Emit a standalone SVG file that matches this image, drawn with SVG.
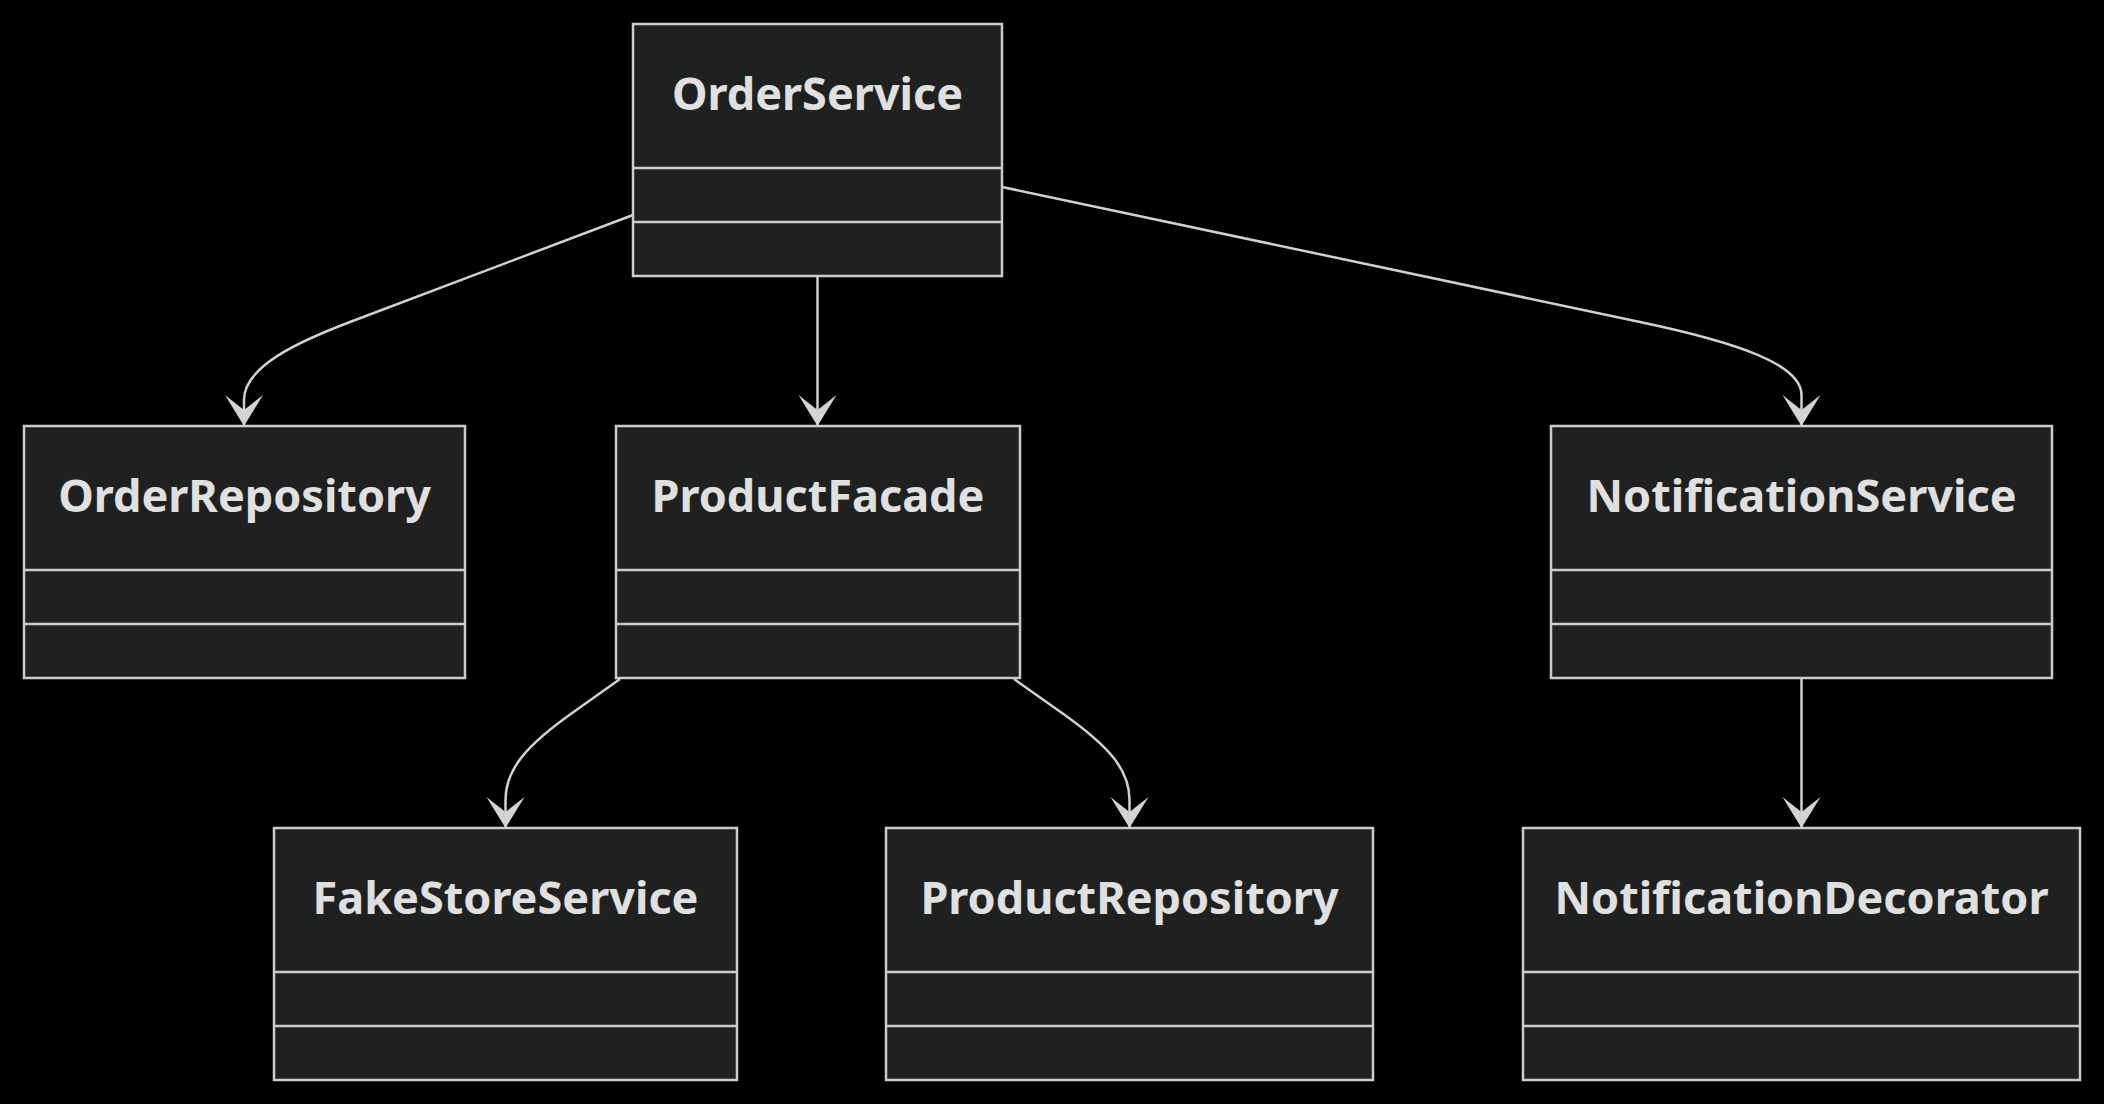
<svg xmlns="http://www.w3.org/2000/svg" width="2104" height="1104" viewBox="0 0 2104 1104">
<defs>
<style>
.box{fill:#1f2020;stroke:#cccccc;stroke-width:2.5}
.div{stroke:#cccccc;stroke-width:2.5}
.lbl{font-family:"Noto Sans","Open Sans","DejaVu Sans",sans-serif;font-weight:bold;font-size:45px;fill:#e0e0e0;text-anchor:middle}
.edge{fill:none;stroke:#d0d0d0;stroke-width:2.5}
</style>
<marker id="arr" markerUnits="userSpaceOnUse" markerWidth="40" markerHeight="40" refX="31" refY="19" orient="auto">
<polygon points="31,19 0,0 15,19 0,38" fill="#d3d3d3"/>
</marker>
</defs>
<rect width="2104" height="1104" fill="#000"/>
<g id="connectors">
<path class="edge" d="M633,215 L350,322 C300,341 244,366 244,400 L244,426" marker-end="url(#arr)"/>
<path class="edge" d="M817.5,276 L817.5,426" marker-end="url(#arr)"/>
<path class="edge" d="M1002,187 L1640,322 C1740,343 1801.5,365 1801.5,395 L1801.5,426" marker-end="url(#arr)"/>
<path class="edge" d="M620,679 L575,711 C525,746 505.5,770 505.5,800 L505.5,828" marker-end="url(#arr)"/>
<path class="edge" d="M1014,679 L1062,713 C1110,747 1129.5,770 1129.5,800 L1129.5,828" marker-end="url(#arr)"/>
<path class="edge" d="M1801.5,678 L1801.5,828" marker-end="url(#arr)"/>
</g>
<g id="OrderService">
<rect class="box" x="633" y="24" width="369" height="252"/>
<line class="div" x1="633" y1="168" x2="1002" y2="168"/>
<line class="div" x1="633" y1="222" x2="1002" y2="222"/>
<text class="lbl" x="817.5" y="110">OrderService</text>
</g>
<g id="OrderRepository">
<rect class="box" x="24" y="426" width="441" height="252"/>
<line class="div" x1="24" y1="570" x2="465" y2="570"/>
<line class="div" x1="24" y1="624" x2="465" y2="624"/>
<text class="lbl" x="244.5" y="512">OrderRepository</text>
</g>
<g id="ProductFacade">
<rect class="box" x="616" y="426" width="404" height="252"/>
<line class="div" x1="616" y1="570" x2="1020" y2="570"/>
<line class="div" x1="616" y1="624" x2="1020" y2="624"/>
<text class="lbl" x="818" y="512">ProductFacade</text>
</g>
<g id="NotificationService">
<rect class="box" x="1551" y="426" width="501" height="252"/>
<line class="div" x1="1551" y1="570" x2="2052" y2="570"/>
<line class="div" x1="1551" y1="624" x2="2052" y2="624"/>
<text class="lbl" x="1801.5" y="512">NotificationService</text>
</g>
<g id="FakeStoreService">
<rect class="box" x="274" y="828" width="463" height="252"/>
<line class="div" x1="274" y1="972" x2="737" y2="972"/>
<line class="div" x1="274" y1="1026" x2="737" y2="1026"/>
<text class="lbl" x="505.5" y="914">FakeStoreService</text>
</g>
<g id="ProductRepository">
<rect class="box" x="886" y="828" width="487" height="252"/>
<line class="div" x1="886" y1="972" x2="1373" y2="972"/>
<line class="div" x1="886" y1="1026" x2="1373" y2="1026"/>
<text class="lbl" x="1129.5" y="914">ProductRepository</text>
</g>
<g id="NotificationDecorator">
<rect class="box" x="1523" y="828" width="557" height="252"/>
<line class="div" x1="1523" y1="972" x2="2080" y2="972"/>
<line class="div" x1="1523" y1="1026" x2="2080" y2="1026"/>
<text class="lbl" x="1801.5" y="914">NotificationDecorator</text>
</g>
</svg>
